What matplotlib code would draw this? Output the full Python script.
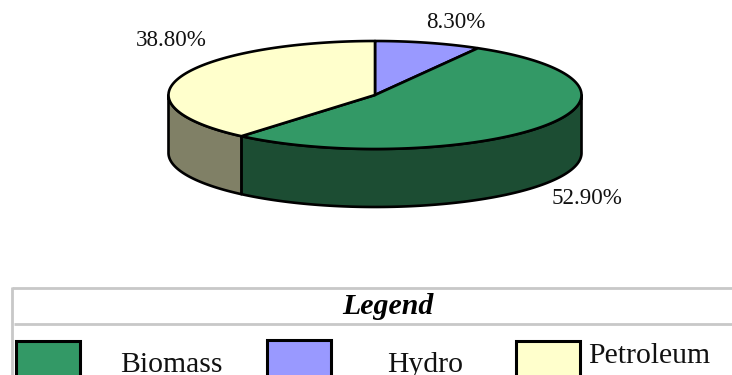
import numpy as np
import matplotlib
matplotlib.use('Agg')
import matplotlib.pyplot as plt
from matplotlib.patches import Polygon, Rectangle

categories = ['Hydro', 'Biomass', 'Petroleum']
shares = [8.3, 52.9, 38.8]
top_colors = ['#9999FF', '#339966', '#FFFFCC']
side_colors = ['#4D4D80', '#1C4D33', '#808066']

# where the percentage labels sit
label_pos = [(456, 22), (587, 198), (171, 40)]

# legend order differs from the slice order
legend_names = ['Biomass', 'Hydro', 'Petroleum']
legend_colors = ['#339966', '#9999FF', '#FFFFCC']
legend_box_x = [16, 267, 516]
legend_box_y = [341, 340, 341]
legend_text_x = [171.5, 425, 649]
legend_text_y = [372, 372, 363]
# the table cells cut their text off here
legend_text_cut = [370, 373, 375]

cx, cy = 375, 95
rx, ry = 206.5, 54
depth = 58
edge_lw = 1.9

plt.rcParams['font.family'] = ['Liberation Serif', 'DejaVu Serif']


def rim(a0, a1, drop=0):
	# angles in degrees, clockwise from 12 o'clock
	t = np.radians(np.linspace(a0, a1, 200))
	return np.column_stack([cx + rx * np.sin(t), cy + drop - ry * np.cos(t)])


fig = plt.figure(figsize=(7.32, 3.75), dpi=100)
ax = fig.add_axes([0, 0, 1, 1])
ax.set_xlim(0, 732)
ax.set_ylim(375, 0)
ax.axis('off')

edges = np.concatenate([[0], np.cumsum(shares)]) * 3.6

# side wall first, only the front half of the rim is visible
for i in range(len(shares)):
	a0 = max(edges[i], 90)
	a1 = min(edges[i + 1], 270)
	if a1 <= a0:
		continue
	wall = np.vstack([rim(a0, a1), rim(a0, a1, depth)[::-1]])
	ax.add_patch(Polygon(wall, closed=True, facecolor=side_colors[i],
						 edgecolor='black', lw=edge_lw, joinstyle='round'))

# top face
for i in range(len(shares)):
	wedge = np.vstack([[cx, cy], rim(edges[i], edges[i + 1])])
	ax.add_patch(Polygon(wedge, closed=True, facecolor=top_colors[i],
						 edgecolor='black', lw=edge_lw, joinstyle='round'))

for i in range(len(shares)):
	ax.text(label_pos[i][0], label_pos[i][1], '%.2f%%' % shares[i], fontsize=16.6,
			ha='center', va='center', color='#111111')

# legend table, runs off the right and bottom edges
grey = '#C8C8C8'
ax.plot([12, 732], [287.5, 287.5], color=grey, lw=2, solid_capstyle='butt')
ax.plot([12, 12], [287, 375], color=grey, lw=2, solid_capstyle='butt')
ax.plot([14, 732], [323.5, 323.5], color=grey, lw=2, solid_capstyle='butt')
ax.text(388, 306, 'Legend', fontsize=21.5, fontweight='bold', fontstyle='italic',
		ha='center', va='center', color='black')

for i in range(len(legend_names)):
	ax.add_patch(Rectangle((legend_box_x[i], legend_box_y[i]), 64, 50,
						   facecolor=legend_colors[i], edgecolor='black', lw=2.2))
	t = ax.text(legend_text_x[i], legend_text_y[i], legend_names[i], fontsize=21.3,
				ha='center', va='baseline', color='#111111')
	t.set_clip_path(Rectangle((0, 330), 732, legend_text_cut[i] - 330, transform=ax.transData))

fig.savefig('out.png', dpi=100)
